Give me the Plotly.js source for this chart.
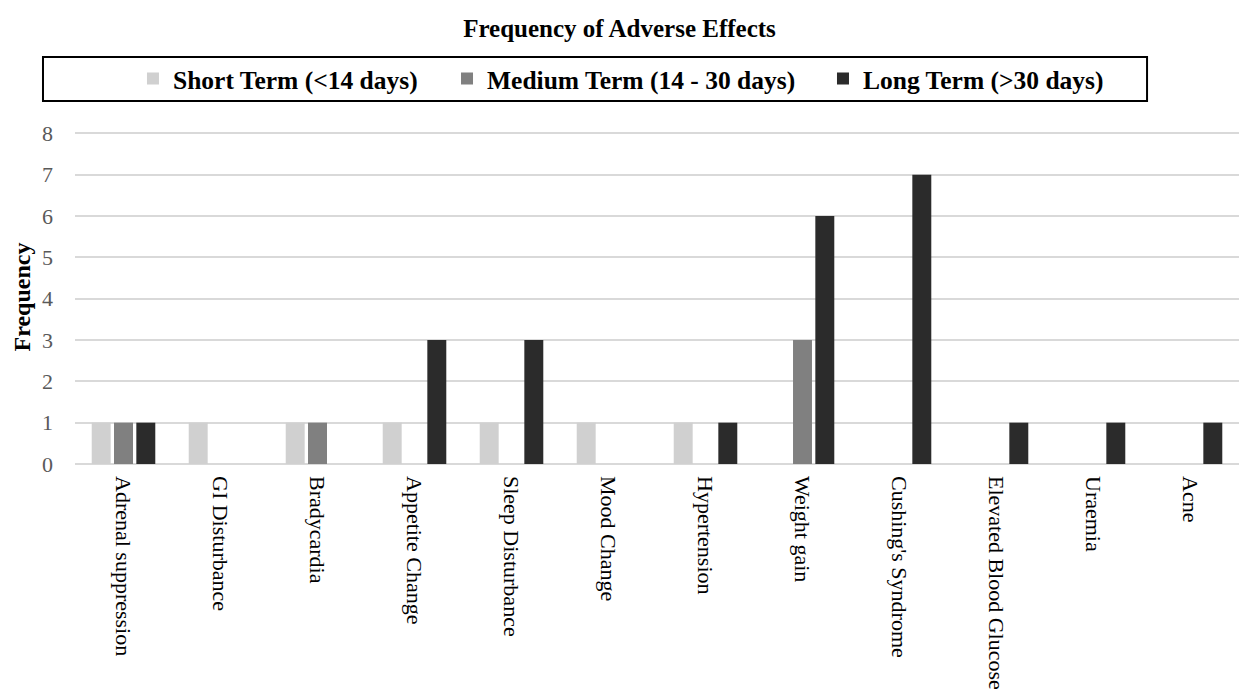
<!DOCTYPE html>
<html>
<head>
<meta charset="utf-8">
<script src="https://cdn.plot.ly/plotly-3.0.1.min.js"></script>
<style>
  html, body { margin: 0; padding: 0; background: #fff; }
  #chart { width: 1239px; height: 695px; }
</style>
</head>
<body>
<div id="chart"></div>
<script>
// Adverse effects and how often each was reported, by treatment duration
const effects = [
  "Adrenal suppression", "GI Disturbance", "Bradycardia", "Appetite Change",
  "Sleep Disturbance", "Mood Change", "Hypertension", "Weight gain",
  "Cushing's Syndrome", "Elevated Blood Glucose", "Uraemia", "Acne"
];
const shortTerm  = [1, 1, 1, 1, 1, 1, 1, 0, 0, 0, 0, 0];
const mediumTerm = [1, 0, 1, 0, 0, 0, 0, 3, 0, 0, 0, 0];
const longTerm   = [1, 0, 0, 3, 3, 0, 1, 6, 7, 1, 1, 1];
const seriesNames = ["Short Term (<14 days)", "Medium Term (14 - 30 days)", "Long Term (>30 days)"];
const yTicks = [0, 1, 2, 3, 4, 5, 6, 7, 8];

const serif = "Liberation Serif, Times New Roman, serif";
const colors = ["#d0d0d0", "#808080", "#2b2b2b"];
// one legend per series so each entry can be placed on its own
const legendIds = ["legend", "legend2", "legend3"];
const legendX = [0.0498, 0.3196, 0.6426];

const traces = [shortTerm, mediumTerm, longTerm].map((vals, i) => ({
  type: "bar",
  name: seriesNames[i],
  x: effects,
  y: vals,
  legend: legendIds[i],
  marker: { color: colors[i], line: { width: 0 } },
  hoverinfo: "x+y+name"
}));

const legendStyle = (x) => ({
  orientation: "h",
  x: x, xanchor: "left",
  y: 1.1527, yanchor: "middle",
  font: { family: serif, size: 25.5, color: "#000000", weight: "bold" },
  bgcolor: "rgba(0,0,0,0)",
  borderwidth: 0,
  itemwidth: 30
});

const layout = {
  width: 1239,
  height: 695,
  margin: { l: 75, r: 0, t: 130, b: 231 },
  paper_bgcolor: "#ffffff",
  plot_bgcolor: "#ffffff",
  barmode: "group",
  bargap: 0.31,
  bargroupgap: 0.15,
  title: {
    text: "<b>Frequency of Adverse Effects</b>",
    font: { family: serif, size: 25, color: "#000000" },
    x: 0.5, xanchor: "center",
    y: 0.96, yanchor: "middle"
  },
  showlegend: true,
  legend: legendStyle(legendX[0]),
  legend2: legendStyle(legendX[1]),
  legend3: legendStyle(legendX[2]),
  shapes: [{
    type: "rect", xref: "paper", yref: "paper",
    x0: -0.0275, x1: 0.921, y0: 1.0868, y1: 1.2186,
    line: { color: "#000000", width: 2 },
    fillcolor: "rgba(0,0,0,0)",
    layer: "above"
  }],
  xaxis: {
    type: "category",
    tickangle: 90,
    tickfont: { family: serif, size: 22, color: "#000000" },
    showgrid: false,
    showline: false,
    ticks: "",
    automargin: false,
    ticklabelstandoff: 11
  },
  yaxis: {
    range: [0, 8.08],
    tickvals: yTicks,
    ticktext: yTicks.map(String),
    tickfont: { family: serif, size: 22, color: "#595959" },
    showgrid: true,
    gridcolor: "#d9d9d9",
    gridwidth: 2,
    zeroline: true,
    zerolinecolor: "#d9d9d9",
    zerolinewidth: 2,
    showline: false,
    ticks: "",
    ticklabelstandoff: 21,
    automargin: false,
    title: {
      text: "<b>Frequency</b>",
      font: { family: serif, size: 24, color: "#000000" },
      standoff: 4
    }
  }
};

Plotly.newPlot("chart", traces, layout, { displayModeBar: false, responsive: false });
</script>
</body>
</html>
